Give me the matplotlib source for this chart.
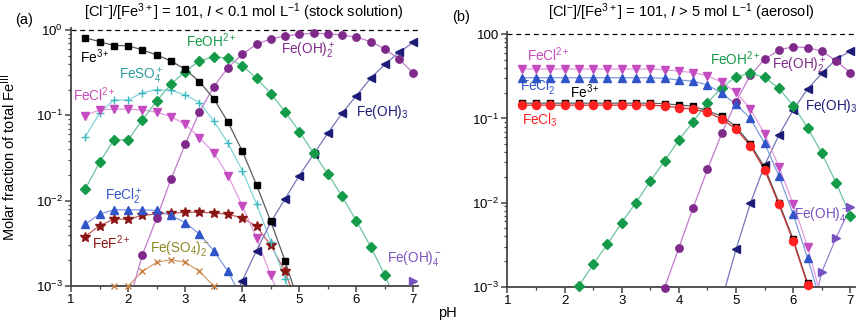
import matplotlib
matplotlib.use('Agg')
import matplotlib.pyplot as plt
from matplotlib import ticker
import numpy as np

plt.rcParams['font.family'] = ['Liberation Sans', 'DejaVu Sans']
plt.rcParams['mathtext.fontset'] = 'custom'
plt.rcParams['mathtext.rm'] = 'Liberation Sans'
plt.rcParams['mathtext.it'] = 'Liberation Sans:italic'
plt.rcParams['mathtext.default'] = 'regular'

nan = np.nan
pH = [1.25, 1.5, 1.75, 2.0, 2.25, 2.5, 2.75, 3.0, 3.25, 3.5, 3.75, 4.0,
      4.25, 4.5, 4.75, 5.0, 5.25, 5.5, 5.75, 6.0, 6.25, 6.5, 6.75, 7.0]

# panel (a): stock solution
a_fe3 = [0.81, 0.73, 0.656, 0.656, 0.583, 0.51, 0.434, 0.346, 0.248, 0.157, 0.083, 0.0383,
         0.0153, 0.0057, 0.00197, 0.0006, nan, nan, nan, nan, nan, nan, nan, nan]
a_feoh = [0.0137, 0.0282, 0.0515, 0.0515, 0.0883, 0.1475, 0.231, 0.325, 0.434, 0.487, 0.466, 0.382,
          0.272, 0.180, 0.1106, 0.0645, 0.036, 0.0206, 0.0112, 0.0058, 0.0029, 0.00133, 0.00055, nan]
a_feoh2 = [nan, nan, nan, 0.0006, 0.00232, 0.0062, 0.0178, 0.0458, 0.1087, 0.217, 0.362, 0.519,
           0.68, 0.785, 0.851, 0.889, 0.914, 0.9, 0.874, 0.82, 0.73, 0.6, 0.453, 0.311]
a_feoh3 = [nan, nan, nan, nan, nan, nan, nan, nan, nan, nan, 0.0005, 0.00115,
           0.0026, 0.0056, 0.0105, 0.0197, 0.035, 0.0617, 0.106, 0.17, 0.272, 0.396, 0.548, 0.717]
a_feoh4 = [nan, nan, nan, nan, nan, nan, nan, nan, nan, nan, nan, nan,
           nan, nan, nan, nan, nan, nan, nan, nan, nan, nan, 0.0004, 0.00115]
a_fecl = [0.0993, 0.1157, 0.118, 0.118, 0.1157, 0.1087, 0.0966, 0.0785, 0.0548, 0.0366, 0.0197, 0.00877,
          0.00363, 0.00133, 0.0005, nan, nan, nan, nan, nan, nan, nan, nan, nan]
a_feso4 = [0.0563, 0.106, 0.151, 0.151, 0.1845, 0.2, 0.197, 0.173, 0.141, 0.086, 0.0471, 0.0225,
           0.0092, 0.0033, 0.00121, 0.0004, nan, nan, nan, nan, nan, nan, nan, nan]
a_fecl2 = [0.0053, 0.00695, 0.0078, 0.0078, 0.0078, 0.0077, 0.0067, 0.00554, 0.00405, 0.0026, 0.00148, 0.0007,
           nan, nan, nan, nan, nan, nan, nan, nan, nan, nan, nan, nan]
a_fef = [0.0038, 0.0051, 0.00607, 0.00607, 0.0067, 0.007, 0.0071, 0.0073, 0.0073, 0.0072, 0.0069, 0.0063,
         0.005, 0.003, 0.00148, 0.0005, nan, nan, nan, nan, nan, nan, nan, nan]
a_feso42 = [nan, 0.0006, 0.001, 0.001, 0.00148, 0.0019, 0.00203, 0.0019, 0.00148, 0.001, 0.0006, nan,
            nan, nan, nan, nan, nan, nan, nan, nan, nan, nan, nan, nan]

# panel (b): aerosol
b_fe3 = [0.152, 0.152, 0.152, 0.152, 0.152, 0.152, 0.152, 0.152, 0.152, 0.152, 0.15, 0.1445,
         0.14, 0.1226, 0.107, 0.0798, 0.0497, 0.0262, 0.01, 0.00365, 0.0011, 0.0003, nan, nan]
b_fecl3 = [0.144, 0.144, 0.144, 0.144, 0.144, 0.144, 0.144, 0.144, 0.144, 0.144, 0.141, 0.134,
           0.129, 0.118, 0.0985, 0.0749, 0.0475, 0.0245, 0.0095, 0.00349, 0.00106, 0.0003, nan, nan]
b_fecl = [0.387, 0.387, 0.387, 0.387, 0.387, 0.387, 0.387, 0.387, 0.387, 0.387, 0.38, 0.366,
          0.35, 0.323, 0.269, 0.205, 0.13, 0.0653, 0.0267, 0.0096, 0.003, 0.0007, nan, nan]
b_fecl2 = [0.305, 0.305, 0.305, 0.305, 0.305, 0.305, 0.305, 0.305, 0.305, 0.305, 0.30, 0.286,
           0.279, 0.25, 0.2, 0.147, 0.1, 0.0506, 0.0207, 0.00724, 0.0022, 0.0006, nan, nan]
b_feoh = [nan, nan, nan, 0.0005, 0.00102, 0.00184, 0.00321, 0.00577, 0.01, 0.018, 0.0312, 0.0554,
          0.0916, 0.154, 0.232, 0.314, 0.344, 0.308, 0.228, 0.142, 0.0777, 0.0385, 0.0172, 0.0069]
b_feoh2 = [nan, nan, nan, nan, nan, nan, nan, nan, nan, 0.0003, 0.00097, 0.0029,
           0.0087, 0.0248, 0.0665, 0.158, 0.328, 0.505, 0.651, 0.713, 0.694, 0.634, 0.482, 0.35]
b_feoh3 = [nan, nan, nan, nan, nan, nan, nan, nan, nan, nan, nan, nan,
           nan, nan, 0.0007, 0.00278, 0.0098, 0.0279, 0.0635, 0.126, 0.224, 0.344, 0.505, 0.634]
b_feoh4 = [nan, nan, nan, nan, nan, nan, nan, nan, nan, nan, nan, nan,
           nan, nan, nan, nan, nan, nan, nan, nan, 0.0003, 0.0015, 0.00382, 0.0088]

# marker colour, line colour, marker, size
sty = {
    'fe3':    ('black', '#5a5a5a', 's', 4.8),
    'feoh':   ('#149a48', '#6cc4a0', 'D', 4.8),
    'feoh2':  ('#7f2a8a', '#c27ccc', 'o', 5.3),
    'feoh3':  ('#1c1c78', '#7777bb', '<', 5.8),
    'feoh4':  ('#7a52c0', '#9a80d0', '>', 5.8),
    'fecl':   ('#c54bc0', '#e39be0', 'v', 5.8),
    'feso4':  ('#3cb8bf', '#80d4d8', '+', 6),
    'fecl2':  ('#2f55c8', '#7f9ae0', '^', 5.8),
    'fef':    ('#8c1515', '#c06060', '*', 7),
    'feso42': ('#c88040', '#d4a070', 'x', 5),
    'fecl3':  ('#ff2020', '#c83030', 'o', 5.8),
}


def draw(ax, y, key):
    mc, lc, mk, ms = sty[key]
    y = np.array(y, dtype=float)
    x = np.array(pH)
    ax.plot(x, y, color=lc, lw=0.9, zorder=2)
    ok = y >= 0.00095
    ax.plot(x[ok], y[ok], ls='none', marker=mk, ms=ms, color=mc, mec=mc,
            mew=1.0, clip_on=False, zorder=3)


def style(ax, top, ylabels):
    ax.set_yscale('log')
    ax.set_ylim(1e-3, top)
    ax.set_xlim(1, 7.08)
    ax.axhline(1, color='black', ls=(0, (4, 3)), lw=0.9, zorder=1)
    for s in ['top', 'right']:
        ax.spines[s].set_visible(False)
    for s in ['left', 'bottom']:
        ax.spines[s].set_color('#444444')
        ax.spines[s].set_linewidth(1.3)
    ax.set_xticks([1, 2, 3, 4, 5, 6, 7])
    ax.xaxis.set_minor_locator(ticker.FixedLocator([1.5, 2.5, 3.5, 4.5, 5.5, 6.5]))
    ax.yaxis.set_major_locator(ticker.FixedLocator([1e-3, 1e-2, 1e-1, 1]))
    ax.yaxis.set_minor_locator(ticker.LogLocator(base=10, subs=np.arange(2, 10), numticks=10))
    ax.yaxis.set_minor_formatter(ticker.NullFormatter())
    ax.set_yticklabels(ylabels)
    ax.tick_params(which='both', direction='out', color='#444444', labelsize=9.5, pad=2)
    ax.tick_params(which='major', length=4, width=1.1)
    ax.tick_params(which='minor', length=2.5, width=0.9)


fig = plt.figure(figsize=(8.58, 3.32), dpi=100)
ax1 = fig.add_axes([0.0828, 0.1386, 0.4044, 0.7771])
ax2 = fig.add_axes([0.5913, 0.1364, 0.4052, 0.768])

style(ax1, 1.055, ['10$^{-3}$', '10$^{-2}$', '10$^{-1}$', '10$^{0}$'])
style(ax2, 1.074, ['10$^{-3}$', '10$^{-2}$', '10$^{-1}$', '100'])

draw(ax1, a_feso42, 'feso42')
draw(ax1, a_fef, 'fef')
draw(ax1, a_fecl2, 'fecl2')
draw(ax1, a_feso4, 'feso4')
draw(ax1, a_fecl, 'fecl')
draw(ax1, a_feoh4, 'feoh4')
draw(ax1, a_feoh3, 'feoh3')
draw(ax1, a_feoh2, 'feoh2')
draw(ax1, a_feoh, 'feoh')
draw(ax1, a_fe3, 'fe3')

draw(ax2, b_feoh4, 'feoh4')
draw(ax2, b_feoh3, 'feoh3')
draw(ax2, b_feoh2, 'feoh2')
draw(ax2, b_feoh, 'feoh')
draw(ax2, b_fecl, 'fecl')
draw(ax2, b_fecl2, 'fecl2')
draw(ax2, b_fe3, 'fe3')
draw(ax2, b_fecl3, 'fecl3')

fs = 9.8
t = dict(fontsize=fs, va='center', ha='left')
ax1.text(1.16, 0.48, 'Fe$^{3+}$', color='black', **t)
ax1.text(3.46, 0.74, 'FeOH$^{2+}$', color='#149a48', fontsize=fs, va='center', ha='center')
ax1.text(1.84, 0.29, 'FeSO$_4^+$', color='#2a9da0', **t)
ax1.text(1.03, 0.174, 'FeCl$^{2+}$', color='#c44cb8', **t)
ax1.text(1.6, 0.0111, 'FeCl$_2^+$', color='#2f55c8', **t)
ax1.text(1.37, 0.0032, 'FeF$^{2+}$', color='#8c1515', **t)
ax1.text(2.39, 0.00274, 'Fe(SO$_4$)$_2^-$', color='#8a8a25', **t)
ax1.text(4.68, 0.57, 'Fe(OH)$_2^+$', color='#7f2a8a', **t)
ax1.text(6.0, 0.11, 'Fe(OH)$_3$', color='#1c1c78', **t)
ax1.text(6.54, 0.0021, 'Fe(OH)$_4^-$', color='#7a52c0', **t)

ax2.text(1.35, 0.567, 'FeCl$^{2+}$', color='#c44cb8', **t)
ax2.text(1.22, 0.23, 'FeCl$_2^+$', color='#2f55c8', **t)
ax2.text(2.1, 0.206, 'Fe$^{3+}$', color='black', **t)
ax2.text(1.25, 0.0955, 'FeCl$_3$', color='#ff2020', **t)
ax2.text(4.54, 0.52, 'FeOH$^{2+}$', color='#149a48', **t)
ax2.text(5.63, 0.42, 'Fe(OH)$_2^+$', color='#7f2a8a', **t)
ax2.text(6.2, 0.14, 'Fe(OH)$_3$', color='#1c1c78', **t)
ax2.text(6.02, 0.0073, 'Fe(OH)$_4^-$', color='#7a52c0', **t)

fig.text(0.284, 0.964, '[Cl$^{-}$]/[Fe$^{3+}$] = 101, $\\mathit{I}$ < 0.1 mol L$^{-1}$ (stock solution)',
         ha='center', va='center', fontsize=10.5)
fig.text(0.794, 0.964, '[Cl$^{-}$]/[Fe$^{3+}$] = 101, $\\mathit{I}$ > 5 mol L$^{-1}$ (aerosol)',
         ha='center', va='center', fontsize=10.5)
fig.text(0.0175, 0.94, '(a)', ha='left', va='center', fontsize=10.5)
fig.text(0.527, 0.949, '(b)', ha='left', va='center', fontsize=10.5)
fig.text(0.0105, 0.527, 'Molar fraction of total Fe$^{\\mathrm{III}}$', rotation=90,
         ha='center', va='center', fontsize=10.5)
fig.text(0.522, 0.057, 'pH', ha='center', va='center', fontsize=10.5)

fig.savefig('out.png', dpi=100)
